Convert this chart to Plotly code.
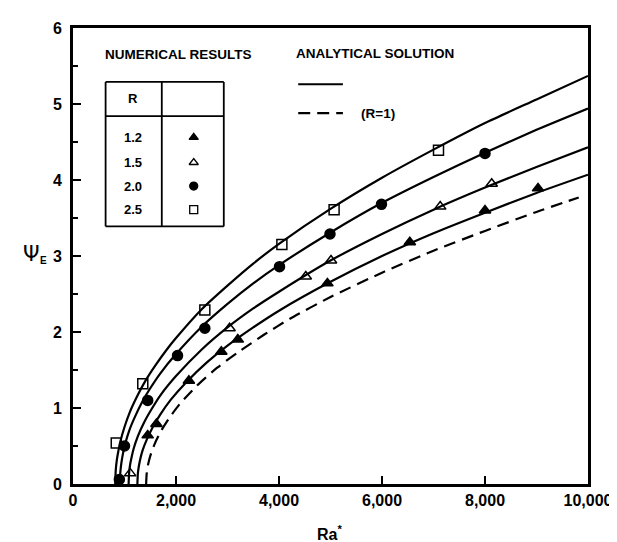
import plotly.graph_objects as go

# ---------------- data ----------------
# Analytical solution curves
x_r25 = [820, 830, 850, 880, 920, 1000, 1100, 1250, 1400, 1600, 1800, 2000, 2500, 3000, 3500, 4000, 5000, 6000, 7000, 8000, 9000, 10000]
y_r25 = [0, 0.18, 0.31, 0.43, 0.56, 0.75, 0.94, 1.16, 1.35, 1.56, 1.75, 1.92, 2.30, 2.61, 2.90, 3.16, 3.62, 4.03, 4.40, 4.75, 5.06, 5.37]

x_r20 = [910, 920, 940, 970, 1010, 1090, 1200, 1350, 1500, 1700, 2000, 2500, 3000, 3500, 4000, 5000, 6000, 7000, 8000, 9000, 10000]
y_r20 = [0, 0.16, 0.28, 0.40, 0.52, 0.70, 0.88, 1.09, 1.26, 1.46, 1.71, 2.07, 2.37, 2.64, 2.88, 3.31, 3.70, 4.04, 4.36, 4.66, 4.94]

x_r15 = [1080, 1090, 1110, 1140, 1180, 1260, 1380, 1530, 1700, 2000, 2500, 3000, 3500, 4000, 5000, 6000, 7000, 8000, 9000, 10000]
y_r15 = [0, 0.15, 0.26, 0.36, 0.47, 0.63, 0.81, 0.99, 1.17, 1.42, 1.77, 2.06, 2.31, 2.53, 2.94, 3.29, 3.61, 3.90, 4.17, 4.43]

x_r12 = [1250, 1260, 1280, 1310, 1350, 1430, 1550, 1700, 1900, 2200, 2600, 3000, 3500, 4000, 5000, 6000, 7000, 8000, 9000, 10000]
y_r12 = [0, 0.14, 0.24, 0.34, 0.44, 0.58, 0.75, 0.92, 1.11, 1.34, 1.60, 1.82, 2.06, 2.28, 2.66, 3.00, 3.30, 3.57, 3.83, 4.07]

x_r10 = [1420, 1430, 1450, 1480, 1520, 1600, 1720, 1870, 2070, 2400, 2800, 3200, 3700, 4200, 5000, 6000, 7000, 8000, 9000, 9820]
y_r10 = [0, 0.13, 0.23, 0.32, 0.41, 0.55, 0.71, 0.87, 1.05, 1.29, 1.53, 1.73, 1.96, 2.17, 2.46, 2.78, 3.07, 3.33, 3.58, 3.77]

# Numerical results
num_x_12 = [1450, 1620, 2250, 2880, 3200, 4940, 6540, 8000, 9030]
num_y_12 = [0.64, 0.79, 1.36, 1.74, 1.90, 2.64, 3.18, 3.60, 3.89]

num_x_15 = [1110, 3040, 4520, 5010, 7130, 8130]
num_y_15 = [0.14, 2.05, 2.73, 2.94, 3.65, 3.95]

num_x_20 = [900, 1000, 1450, 2030, 2560, 4010, 4990, 5990, 8000]
num_y_20 = [0.06, 0.50, 1.10, 1.69, 2.05, 2.86, 3.29, 3.68, 4.35]

num_x_25 = [840, 1355, 2560, 4056, 5070, 7097]
num_y_25 = [0.54, 1.32, 2.29, 3.15, 3.61, 4.39]

table_R = ["1.2", "1.5", "2.0", "2.5"]
table_symbols = ["triangle-up", "triangle-up-open", "circle", "square-open"]

x_ticks = [0, 2000, 4000, 6000, 8000, 10000]
y_ticks = [0, 1, 2, 3, 4, 5, 6]

# ---------------- figure ----------------
FONT = "Liberation Sans, Arial, Helvetica, sans-serif"
DASH = "12px,7px"
fig = go.Figure()

for xs, ys in [(x_r25, y_r25), (x_r20, y_r20), (x_r15, y_r15), (x_r12, y_r12)]:
    fig.add_trace(go.Scatter(x=xs, y=ys, mode="lines",
                             line=dict(color="black", width=2.2, shape="spline", smoothing=0.6),
                             showlegend=False, hoverinfo="skip"))
fig.add_trace(go.Scatter(x=x_r10, y=y_r10, mode="lines",
                         line=dict(color="black", width=2.2, dash=DASH, shape="spline", smoothing=0.6),
                         showlegend=False, hoverinfo="skip"))

num_sets = [(num_x_12, num_y_12), (num_x_15, num_y_15), (num_x_20, num_y_20), (num_x_25, num_y_25)]
for (xs, ys), sym in zip(num_sets, table_symbols):
    fig.add_trace(go.Scatter(x=xs, y=ys, mode="markers",
                             marker=dict(symbol=sym, size=10, color="black", line=dict(color="black", width=1.5)),
                             showlegend=False))

# ---- legend table (numerical results) ----
box_x0, box_xm, box_x1 = 633, 1724, 2928
box_y0, box_ym, box_y1 = 3.39, 4.84, 5.29
for x0, y0, x1, y1 in [
    (box_x0, box_y0, box_x1, box_y0), (box_x0, box_y1, box_x1, box_y1),
    (box_x0, box_y0, box_x0, box_y1), (box_x1, box_y0, box_x1, box_y1),
    (box_xm, box_y0, box_xm, box_y1), (box_x0, box_ym, box_x1, box_ym)]:
    fig.add_shape(type="line", x0=x0, y0=y0, x1=x1, y1=y1, xref="x", yref="y",
                  line=dict(color="black", width=1.8))

row_y = [4.56, 4.23, 3.92, 3.61]
fig.add_trace(go.Scatter(x=[2344] * 4, y=row_y, mode="markers",
                         marker=dict(symbol=table_symbols, size=8, color="black",
                                     line=dict(color="black", width=1.3)),
                         showlegend=False, hoverinfo="skip"))
for r, yv in zip(table_R, row_y):
    fig.add_annotation(x=1160, y=yv, text="<b>%s</b>" % r, showarrow=False, xref="x", yref="y",
                       font=dict(family=FONT, size=13, color="black"))
fig.add_annotation(x=1173, y=5.07, text="<b>R</b>", showarrow=False, xref="x", yref="y",
                   font=dict(family=FONT, size=13, color="black"))
fig.add_annotation(x=590, y=5.65, text="<b>NUMERICAL RESULTS</b>", showarrow=False, xref="x", yref="y",
                   xanchor="left", font=dict(family=FONT, size=13.5, color="black"))

# ---- analytical solution legend ----
fig.add_annotation(x=4290, y=5.67, text="<b>ANALYTICAL SOLUTION</b>", showarrow=False, xref="x", yref="y",
                   xanchor="left", font=dict(family=FONT, size=13.5, color="black"))
fig.add_shape(type="line", x0=4373, x1=5241, y0=5.26, y1=5.26, xref="x", yref="y",
              line=dict(color="black", width=2.2))
fig.add_shape(type="line", x0=4373, x1=5241, y0=4.88, y1=4.88, xref="x", yref="y",
              line=dict(color="black", width=2.2, dash=DASH))
fig.add_annotation(x=5546, y=4.88, text="<b>(R=1)</b>", showarrow=False, xref="x", yref="y",
                   xanchor="left", font=dict(family=FONT, size=13.5, color="black"))

# ---- axis titles ----
fig.add_annotation(x=-0.061, y=3.02, xref="paper", yref="y", text="Ψ", showarrow=False,
                   xanchor="right", font=dict(family="DejaVu Sans, sans-serif", size=21, color="black"))
fig.add_annotation(x=-0.046, y=2.94, xref="paper", yref="y", text="<b>E</b>", showarrow=False,
                   xanchor="right", font=dict(family=FONT, size=10, color="black"))
fig.add_annotation(x=4700, y=-0.108, xref="x", yref="paper", text="<b>Ra<sup>*</sup></b>", showarrow=False,
                   xanchor="left", yanchor="middle", font=dict(family=FONT, size=16, color="black"))

fig.update_layout(
    width=617, height=542,
    margin=dict(l=65, r=26, t=14, b=66),
    paper_bgcolor="white", plot_bgcolor="white",
    font=dict(family=FONT, color="black"),
)
fig.update_xaxes(range=[0, 10000], tickvals=x_ticks, ticktext=["<b>%s</b>" % format(v, ",") for v in x_ticks],
                 ticks="inside", ticklen=8, tickwidth=1.5, tickcolor="black",
                 showline=True, linewidth=3, linecolor="black", mirror=True, showgrid=False, zeroline=False,
                 tickfont=dict(family=FONT, size=16, color="black"))
fig.update_yaxes(range=[0, 6], tickvals=y_ticks, ticktext=["<b>%d</b>" % v for v in y_ticks],
                 ticks="inside", ticklen=8, tickwidth=1.5, tickcolor="black", ticklabelstandoff=5,
                 minor=dict(ticks="inside", ticklen=5, tickwidth=1.5, tickcolor="black", dtick=0.5, showgrid=False),
                 showline=True, linewidth=3, linecolor="black", mirror=True, showgrid=False, zeroline=False,
                 tickfont=dict(family=FONT, size=16, color="black"))

fig.write_html("out.html")
